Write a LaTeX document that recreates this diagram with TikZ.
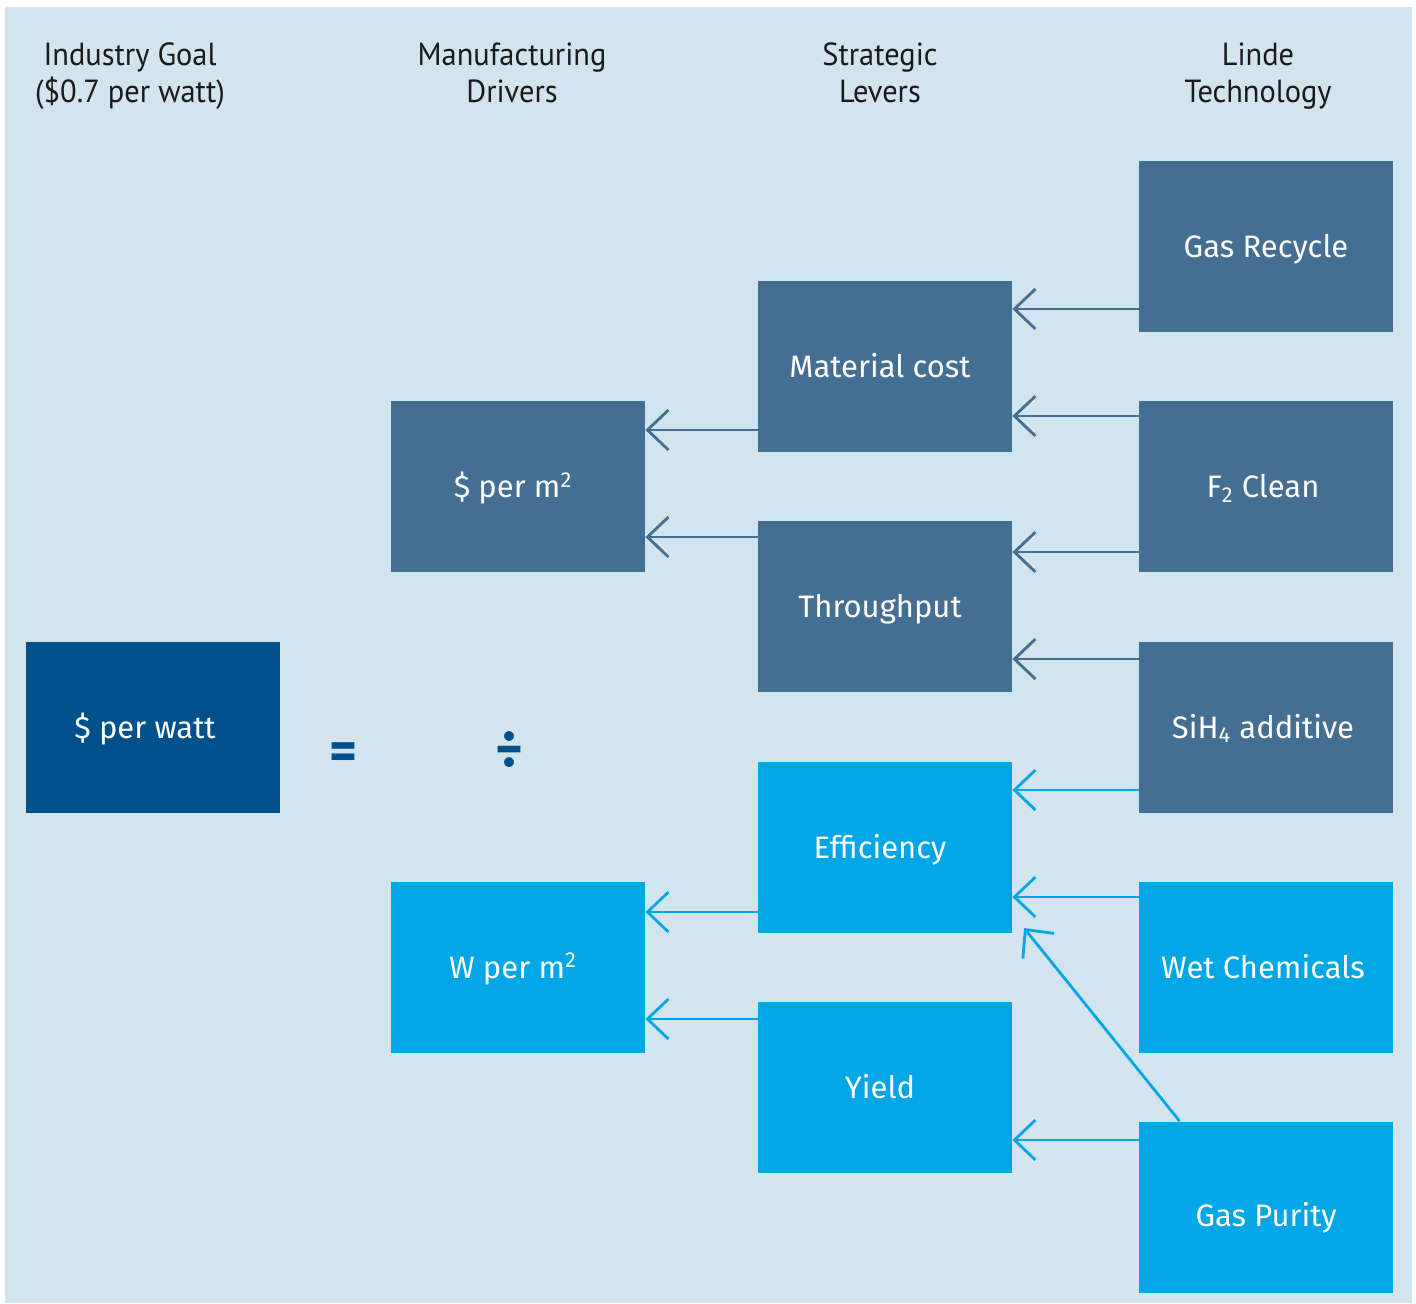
\documentclass[tikz,border=0pt]{standalone}
\usepackage{fontspec}
\setmainfont{Fira Sans}
\newfontfamily\hdrfont[FakeStretch=0.95]{PT Sans}
\usetikzlibrary{arrows.meta}
\definecolor{bgpanel}{HTML}{D2E4EE}
\definecolor{slateblue}{HTML}{456F92}
\definecolor{brightblue}{HTML}{00A6E6}
\definecolor{deepblue}{HTML}{00508C}
\definecolor{hdrtext}{HTML}{1A1A1A}
\tikzset{
  box/.style={inner sep=0pt, minimum width=127pt, minimum height=85.5pt, text=white,
    font=\fontsize{15.5}{18}\selectfont, align=center, text height=13pt, text depth=2pt},
  slatebox/.style={box, fill=slateblue},
  brightbox/.style={box, fill=brightblue},
  deepbox/.style={box, fill=deepblue},
  hdr/.style={font=\hdrfont\fontsize{16}{18.5}\selectfont, text=hdrtext, align=center,
    inner sep=0pt, text height=11.5pt, text depth=22.5pt},
  opsym/.style={text=deepblue, inner sep=0pt},
  arr/.style={line width=1.4pt, -{Straight Barb[length=10.5pt, width=20pt, line width=1.4pt]}},
  slatearr/.style={arr, draw=slateblue},
  brightarr/.style={arr, draw=brightblue}
}
\begin{document}
\begin{tikzpicture}[x=0.5pt, y=-0.5pt]
\useasboundingbox (0,0) rectangle (1416,1303);
\fill[white] (0,0) rectangle (1416,1303);
\fill[bgpanel] (5,7) rectangle (1412,1303);

% headers
\node[hdr] (h1) at (130,113) {Industry Goal\\(\$0.7 per watt)};
\node[hdr] (h2) at (512,113) {Manufacturing\\Drivers};
\node[hdr] (h3) at (880,113) {Strategic\\Levers};
\node[hdr] (h4) at (1258,113) {Linde\\Technology};

% boxes
\node[deepbox] (pw) at (153,727) {\$ per watt\hspace*{8pt}};
\node[slatebox] (pm) at (518,486.5) {\$ per m\textsuperscript{2}\hspace*{5pt}};
\node[brightbox] (wm) at (518,967) {W per m\textsuperscript{2}\hspace*{5pt}};
\node[slatebox] (mc) at (885,366.5) {Material cost\hspace*{5pt}};
\node[slatebox] (tp) at (885,606.5) {Throughput\hspace*{5pt}};
\node[brightbox] (ef) at (885,847) {Efficiency\hspace*{5pt}};
\node[brightbox] (yd) at (885,1087) {Yield\hspace*{5pt}};
\node[slatebox] (gr) at (1266,246.5) {Gas Recycle};
\node[slatebox] (fc) at (1266,486.5) {F\textsubscript{2} Clean\hspace*{3pt}};
\node[slatebox] (sh) at (1266,727) {SiH\textsubscript{4} additive\hspace*{3pt}};
\node[brightbox] (wc) at (1266,967) {Wet Chemicals\hspace*{3pt}};
\node[brightbox] (gp) at (1266,1207) {\raisebox{-4pt}{Gas Purity}};

% operators
\node[opsym, font=\fontsize{27}{27}\selectfont\bfseries] (eq) at (344,756) {=};
\node[opsym, font=\fontsize{27}{27}\selectfont\bfseries] (dv) at (510,750) {÷};

% arrows: technology -> levers
\draw[slatearr] (gr.west |- 0,309) -- (mc.east |- 0,309);
\draw[slatearr] (fc.west |- 0,416) -- (mc.east |- 0,416);
\draw[slatearr] (fc.west |- 0,552) -- (tp.east |- 0,552);
\draw[slatearr] (sh.west |- 0,659) -- (tp.east |- 0,659);
\draw[brightarr] (sh.west |- 0,790) -- (ef.east |- 0,790);
\draw[brightarr] (wc.west |- 0,897) -- (ef.east |- 0,897);
\draw[brightarr] (gp.west |- 0,1140) -- (yd.east |- 0,1140);
\coordinate (diagend) at (1024,928);
\draw[brightarr] ([xshift=20.5pt]gp.north west) -- (diagend);

% arrows: levers -> drivers
\draw[slatearr] (mc.west |- 0,430) -- (pm.east |- 0,430);
\draw[slatearr] (tp.west |- 0,537) -- (pm.east |- 0,537);
\draw[brightarr] (ef.west |- 0,912) -- (wm.east |- 0,912);
\draw[brightarr] (yd.west |- 0,1019) -- (wm.east |- 0,1019);
\end{tikzpicture}
\end{document}
